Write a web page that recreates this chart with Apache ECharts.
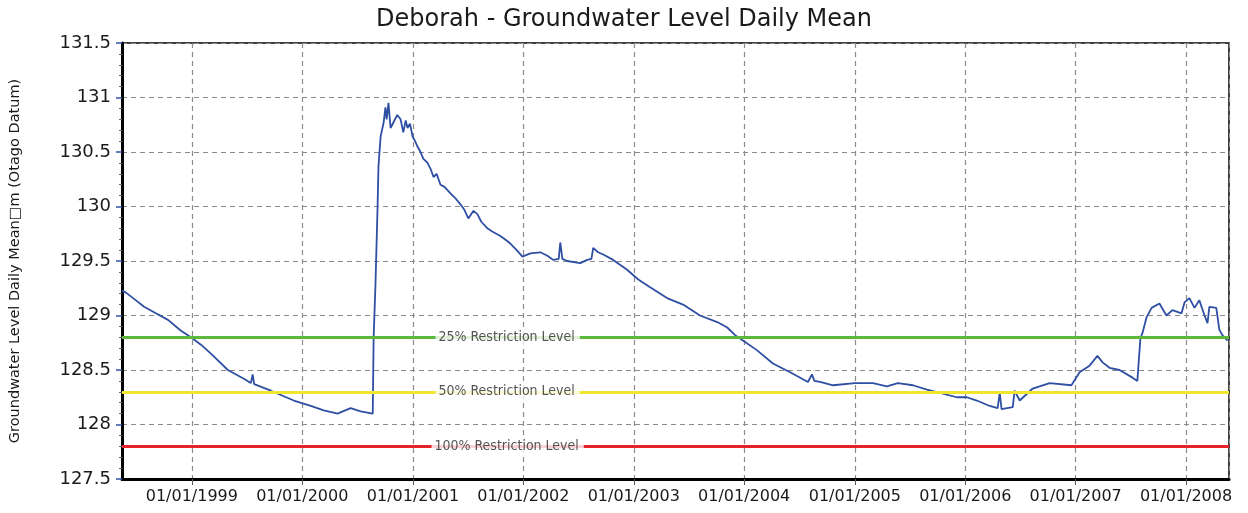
<!DOCTYPE html>
<html>
<head>
<meta charset="utf-8">
<title>Deborah - Groundwater Level Daily Mean</title>
<script src="https://cdn.jsdelivr.net/npm/echarts@6/dist/echarts.min.js"></script>
<style>
  html, body { margin: 0; padding: 0; background: #fff; }
  #chart { width: 1248px; height: 513px; }
</style>
</head>
<body>
<div id="chart"></div>
<script>
// groundwater level readings
const levelDates = [
  '1998-05-15', '1998-05-28', '1998-06-25', '1998-07-27', '1998-09-04', '1998-10-14', '1998-11-26', '1998-12-29',
  '1999-02-01', '1999-03-05', '1999-04-30', '1999-06-22', '1999-07-15', '1999-07-21', '1999-07-26', '1999-09-19',
  '1999-12-04', '2000-01-29', '2000-03-12', '2000-04-27', '2000-05-14', '2000-06-09', '2000-07-12', '2000-08-21',
  '2000-08-24', '2000-08-30', '2000-09-06', '2000-09-09', '2000-09-16', '2000-09-26', '2000-10-02', '2000-10-06',
  '2000-10-12', '2000-10-19', '2000-10-30', '2000-11-10', '2000-11-21', '2000-11-30', '2000-12-08', '2000-12-14',
  '2000-12-22', '2000-12-31', '2001-01-08', '2001-01-16', '2001-01-26', '2001-02-04', '2001-02-18', '2001-03-01',
  '2001-03-10', '2001-03-20', '2001-04-02', '2001-04-15', '2001-05-05', '2001-05-20', '2001-06-07', '2001-06-20',
  '2001-07-03', '2001-07-20', '2001-08-02', '2001-08-15', '2001-09-04', '2001-09-20', '2001-10-17', '2001-11-01',
  '2001-11-19', '2001-12-10', '2001-12-29', '2002-01-24', '2002-02-26', '2002-03-20', '2002-04-10', '2002-04-28',
  '2002-05-03', '2002-05-10', '2002-05-26', '2002-07-08', '2002-07-31', '2002-08-14', '2002-08-20', '2002-09-05',
  '2002-09-22', '2002-10-25', '2002-12-10', '2003-01-16', '2003-02-24', '2003-04-21', '2003-06-13', '2003-08-08',
  '2003-10-04', '2003-11-06', '2003-12-02', '2003-12-28', '2004-02-13', '2004-04-05', '2004-06-01', '2004-07-30',
  '2004-08-12', '2004-08-20', '2004-09-08', '2004-10-21', '2005-01-01', '2005-03-02', '2005-04-17', '2005-05-23',
  '2005-07-12', '2005-08-27', '2005-10-09', '2005-12-04', '2006-01-06', '2006-02-08', '2006-03-23', '2006-04-18',
  '2006-04-25', '2006-05-01', '2006-06-07', '2006-06-13', '2006-06-30', '2006-08-12', '2006-10-07', '2006-12-18',
  '2007-01-14', '2007-02-16', '2007-03-14', '2007-03-31', '2007-04-23', '2007-05-26', '2007-07-08', '2007-07-24',
  '2007-08-03', '2007-08-10', '2007-08-23', '2007-09-09', '2007-10-05', '2007-10-28', '2007-11-17', '2007-12-17',
  '2007-12-27', '2008-01-12', '2008-01-29', '2008-02-14', '2008-03-02', '2008-03-12', '2008-03-18', '2008-04-10',
  '2008-04-20', '2008-04-30', '2008-05-17'
];
const levelValues = [
  129.23, 129.21, 129.15, 129.08, 129.02, 128.96, 128.86, 128.80,
  128.73, 128.65, 128.50, 128.42, 128.38, 128.46, 128.37, 128.31,
  128.22, 128.17, 128.13, 128.10, 128.12, 128.15, 128.12, 128.10,
  128.80, 129.28, 130.00, 130.37, 130.64, 130.77, 130.91, 130.80,
  130.95, 130.72, 130.78, 130.84, 130.80, 130.68, 130.79, 130.72,
  130.76, 130.64, 130.60, 130.55, 130.50, 130.44, 130.40, 130.34,
  130.27, 130.30, 130.20, 130.18, 130.12, 130.08, 130.02, 129.97,
  129.89, 129.96, 129.93, 129.86, 129.80, 129.77, 129.73, 129.70,
  129.66, 129.60, 129.54, 129.57, 129.58, 129.55, 129.51, 129.52,
  129.67, 129.52, 129.50, 129.48, 129.51, 129.52, 129.62, 129.58,
  129.56, 129.51, 129.42, 129.33, 129.26, 129.16, 129.10, 129.00,
  128.94, 128.89, 128.82, 128.77, 128.68, 128.56, 128.48, 128.39,
  128.46, 128.40, 128.39, 128.36, 128.38, 128.38, 128.35, 128.38,
  128.36, 128.32, 128.29, 128.25, 128.25, 128.22, 128.17, 128.15,
  128.29, 128.14, 128.16, 128.31, 128.22, 128.33, 128.38, 128.36,
  128.48, 128.54, 128.63, 128.57, 128.52, 128.50, 128.43, 128.40,
  128.79, 128.84, 128.98, 129.07, 129.11, 129.00, 129.05, 129.02,
  129.12, 129.16, 129.07, 129.14, 129.00, 128.93, 129.08, 129.07,
  128.87, 128.82, 128.77
];

// restriction levels
const restrictionLevels = [128.8, 128.3, 127.8];
const restrictionNames = ['25% Restriction Level', '50% Restriction Level', '100% Restriction Level'];
const restrictionColors = ['#5cb83c', '#f0e62e', '#e8222a'];
const restrictionLabelDate = '2001-11-10';

const xStart = '1998-05-15';
const xEnd = '2008-05-22';
const yMin = 127.5;
const yMax = 131.5;
const yStep = 0.5;

const FONT = "'DejaVu Sans', 'Liberation Sans', Arial, sans-serif";

const chart = echarts.init(document.getElementById('chart'));

const seriesData = levelDates.map((d, i) => [d, levelValues[i]]);
const labelData = restrictionLevels.map((v, i) => [restrictionLabelDate, v, restrictionNames[i]]);
const pad = n => (n < 10 ? '0' : '') + n;
const DAY = 24 * 3600 * 1000;

chart.setOption({
  animation: false,
  textStyle: { fontFamily: FONT },
  title: {
    text: 'Deborah - Groundwater Level Daily Mean',
    left: 'center',
    top: 3,
    textStyle: { fontSize: 24, fontWeight: 'normal', color: '#1a1a1a', fontFamily: FONT },
  },
  grid: {
    left: 122, right: 19, top: 43, bottom: 34,
    show: true, borderColor: '#000', borderWidth: 1.5,
  },
  xAxis: {
    type: 'time',
    min: xStart,
    max: xEnd,
    splitNumber: 10,
    minInterval: 365 * DAY,
    maxInterval: 366 * DAY,
    axisLine: { show: true, lineStyle: { color: '#000', width: 3 } },
    axisTick: { show: true, length: 6, lineStyle: { color: '#555' } },
    axisLabel: {
      color: '#1a1a1a', fontSize: 16, margin: 10, fontFamily: FONT,
      formatter: v => {
        const d = new Date(v);
        return pad(d.getDate()) + '/' + pad(d.getMonth() + 1) + '/' + d.getFullYear();
      },
    },
    splitLine: { show: true, lineStyle: { color: '#8c8c8c', type: [5, 4], width: 1.2 } },
  },
  yAxis: {
    type: 'value',
    min: yMin,
    max: yMax,
    interval: yStep,
    name: 'Groundwater Level Daily Mean\u25A1m (Otago Datum)',
    nameLocation: 'middle',
    nameGap: 99,
    nameTextStyle: { fontSize: 14.5, color: '#1a1a1a', fontFamily: FONT },
    axisLine: { show: true, lineStyle: { color: '#000', width: 3 } },
    axisTick: { show: true, length: 6, lineStyle: { color: '#3352a8', width: 1.5 } },
    minorTick: { show: true, splitNumber: 5, length: 3, lineStyle: { color: '#666' } },
    axisLabel: {
      color: '#1a1a1a', fontSize: 18, margin: 11, fontFamily: FONT,
      formatter: v => String(+v.toFixed(1)),
    },
    splitLine: { show: true, lineStyle: { color: '#8c8c8c', type: [5, 4], width: 1.2 } },
  },
  series: [
    {
      name: 'Groundwater Level',
      type: 'line',
      data: seriesData,
      symbol: 'none',
      lineStyle: { color: '#2f4fa3', width: 1.8 },
      z: 3,
      markLine: {
        silent: true,
        symbol: 'none',
        label: { show: false },
        data: restrictionLevels.map((v, i) => ({
          yAxis: v,
          lineStyle: { color: restrictionColors[i], width: 3, type: 'solid' },
        })),
      },
    },
    {
      name: 'Restriction labels',
      type: 'scatter',
      data: labelData,
      symbolSize: 0,
      silent: true,
      z: 5,
      label: {
        show: true,
        position: 'inside',
        formatter: p => p.data[2],
        fontFamily: "'DejaVu Sans Condensed', 'Liberation Sans Narrow', sans-serif",
        fontSize: 14,
        color: '#2a2a2a',
        backgroundColor: '#fff',
        padding: [1, 5, 1, 3],
      },
    },
  ],
});
</script>
</body>
</html>
